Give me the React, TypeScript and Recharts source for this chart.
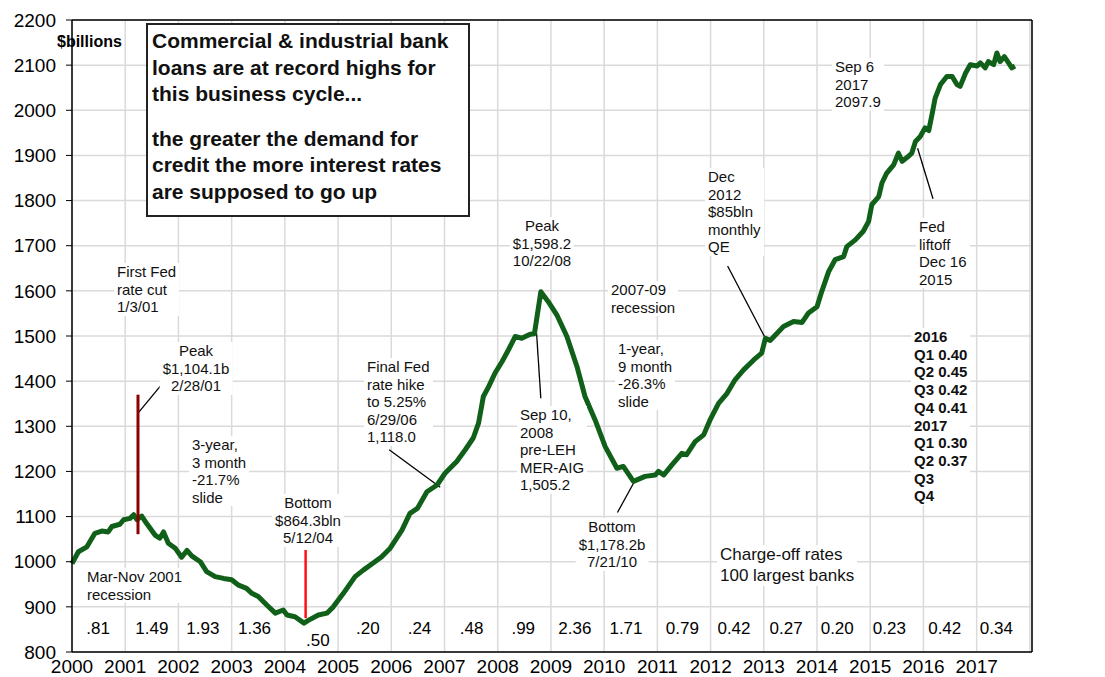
import React from 'react';
import {
  ComposedChart, Line, Scatter, XAxis, YAxis, CartesianGrid, ReferenceLine, LabelList,
} from 'recharts';

// C&I bank loans, $billions (weekly)
const weeks = [
  2000.00, 2000.12, 2000.28, 2000.43, 2000.56, 2000.68, 2000.75, 2000.90, 2000.97, 2001.09,
  2001.16, 2001.22, 2001.31, 2001.40, 2001.56, 2001.65, 2001.72, 2001.81, 2001.94, 2002.06,
  2002.16, 2002.25, 2002.41, 2002.53, 2002.69, 2002.85, 2003.00, 2003.13, 2003.28, 2003.38,
  2003.50, 2003.66, 2003.82, 2003.97, 2004.04, 2004.19, 2004.36, 2004.44, 2004.63, 2004.79,
  2004.91, 2005.10, 2005.32, 2005.48, 2005.66, 2005.82, 2005.98, 2006.20, 2006.35, 2006.49,
  2006.67, 2006.86, 2007.01, 2007.23, 2007.39, 2007.54, 2007.64, 2007.73, 2007.83, 2007.95,
  2008.08, 2008.20, 2008.33, 2008.45, 2008.61, 2008.69, 2008.81, 2008.95, 2009.11, 2009.30,
  2009.49, 2009.64, 2009.83, 2010.02, 2010.24, 2010.36, 2010.55, 2010.77, 2010.96, 2011.02,
  2011.12, 2011.27, 2011.46, 2011.55, 2011.71, 2011.87, 2011.99, 2012.15, 2012.31, 2012.46,
  2012.62, 2012.81, 2012.96, 2013.03, 2013.12, 2013.25, 2013.37, 2013.56, 2013.72, 2013.84,
  2014.00, 2014.09, 2014.22, 2014.34, 2014.50, 2014.56, 2014.72, 2014.87, 2014.97, 2015.03,
  2015.16, 2015.22, 2015.31, 2015.44, 2015.53, 2015.60, 2015.72, 2015.78, 2015.85, 2015.94,
  2016.03, 2016.10, 2016.16, 2016.22, 2016.32, 2016.44, 2016.54, 2016.63, 2016.69, 2016.79,
  2016.88, 2017.01, 2017.07, 2017.16, 2017.22, 2017.32, 2017.38, 2017.44, 2017.52, 2017.60,
  2017.66, 2017.72,
];
const loans = [
  996, 1022, 1033, 1063, 1068, 1066, 1078, 1083, 1093, 1096,
  1104, 1093, 1101, 1085, 1059, 1052, 1066, 1041, 1030, 1010,
  1025, 1013, 1000, 978, 967, 963, 960, 948, 941, 930,
  923, 904, 886, 893, 882, 878, 864, 870, 882, 886,
  900, 930, 967, 982, 997, 1011, 1030, 1070, 1107, 1118,
  1155, 1170, 1196, 1222, 1248, 1274, 1307, 1366, 1388, 1418,
  1443, 1469, 1499, 1495, 1504, 1505, 1598, 1576, 1547, 1499,
  1432, 1366, 1314, 1255, 1207, 1211, 1178, 1189, 1192, 1200,
  1192, 1214, 1240, 1237, 1266, 1281, 1314, 1351, 1373, 1403,
  1425, 1447, 1462, 1495, 1490, 1506, 1521, 1532, 1530, 1551,
  1565, 1599, 1643, 1669, 1676, 1698, 1713, 1732, 1754, 1791,
  1809, 1839, 1861, 1879, 1905, 1887, 1898, 1905, 1931, 1942,
  1961, 1955, 1990, 2027, 2057, 2075, 2075, 2057, 2053, 2082,
  2101, 2098, 2105, 2094, 2108, 2101, 2127, 2108, 2119, 2105,
  2094, 2098,
];

// charge-off rates, 100 largest banks (one per year)
const chargeOffYears = [
  2000.49, 2001.5, 2002.46, 2003.43, 2004.62, 2005.56, 2006.53, 2007.51, 2008.48,
  2009.45, 2010.41, 2011.47, 2012.44, 2013.42, 2014.38, 2015.36, 2016.4, 2017.37,
];
const chargeOffLabels = [
  '.81', '1.49', '1.93', '1.36', '.50', '.20', '.24', '.48', '.99',
  '2.36', '1.71', '0.79', '0.42', '0.27', '0.20', '0.23', '0.42', '0.34',
];

const yearTicks = [2000, 2001, 2002, 2003, 2004, 2005, 2006, 2007, 2008, 2009,
  2010, 2011, 2012, 2013, 2014, 2015, 2016, 2017, 2018];
const valueTicks = [800, 900, 1000, 1100, 1200, 1300, 1400, 1500, 1600, 1700,
  1800, 1900, 2000, 2100, 2200];

const series = weeks.map((t, i) => ({ t, v: loans[i] }));
const chargeOff = chargeOffYears.map((t, i) => ({
  t, v: chargeOffLabels[i] === '.50' ? 827 : 853, label: chargeOffLabels[i],
}));

// annotation pointer lines [x1, y1, x2, y2] in data units
const leaders = [
  [2001.24, 1329, 2001.73, 1399],
  [2005.96, 1248, 2006.92, 1165],
  [2008.73, 1506, 2008.81, 1362],
  [2010.58, 1180, 2010.25, 1109],
  [2012.32, 1655, 2013.03, 1495],
  [2015.89, 1916, 2016.18, 1804],
];

const FONT = '"Liberation Sans", Arial, sans-serif';

function Note({ x, y, lines, center = false, bold = false, size = 15, lh = 17.6 }: any) {
  return (
    <div
      style={{
        position: 'absolute',
        left: center ? x : x - 3,
        top: y,
        transform: center ? 'translateX(-50%)' : undefined,
        fontSize: size,
        lineHeight: lh + 'px',
        fontWeight: bold ? 'bold' : 'normal',
        textAlign: center ? 'center' : 'left',
        whiteSpace: 'pre',
        background: '#fff',
        padding: '0 3px',
        color: '#111',
      }}
    >
      {lines.join('\n')}
    </div>
  );
}

export default function App() {
  const tick = { fill: '#000', fontSize: 19, fontFamily: FONT };
  return (
    <div style={{ position: 'absolute', left: 0, top: 0, width: 1105, height: 677, fontFamily: FONT, background: '#fff' }}>
      <ComposedChart width={1105} height={677} data={series} margin={{ top: 20, right: 0, bottom: 0, left: 0 }}>
        <CartesianGrid yAxisId="l" stroke="#dadada" strokeWidth={1.5} />
        <XAxis
          dataKey="t" type="number" domain={[2000, 2018.04]} ticks={yearTicks}
          tickFormatter={(v) => (v === 2018 ? '' : String(v))}
          tickLine={false} tickSize={6} tickMargin={2} height={25}
          axisLine={{ stroke: '#000', strokeWidth: 1.5 }} tick={tick}
        />
        <YAxis
          yAxisId="l" domain={[800, 2200]} ticks={valueTicks} width={72}
          tickSize={6} tickMargin={10} tick={tick}
          axisLine={{ stroke: '#000', strokeWidth: 1.5 }} tickLine={{ stroke: '#000' }}
        />
        <YAxis
          yAxisId="r" orientation="right" domain={[800, 2200]} ticks={valueTicks} width={73}
          tickSize={6} tickMargin={11} tick={tick}
          axisLine={{ stroke: '#000', strokeWidth: 1.5 }} tickLine={{ stroke: '#000' }}
        />
        <ReferenceLine yAxisId="l" y={2200} stroke="#000" strokeWidth={1.5} />
        {leaders.map((s, i) => (
          <ReferenceLine
            key={i} yAxisId="l" stroke="#000" strokeWidth={1.3}
            segment={[{ x: s[0], y: s[1] }, { x: s[2], y: s[3] }]}
          />
        ))}
        <Line
          yAxisId="l" dataKey="v" type="linear" stroke="#11601a" strokeWidth={5}
          dot={false} isAnimationActive={false} strokeLinejoin="round"
        />
        <ReferenceLine yAxisId="l" stroke="#8b0000" strokeWidth={3}
          segment={[{ x: 2001.24, y: 1061 }, { x: 2001.24, y: 1370 }]} />
        <ReferenceLine yAxisId="l" stroke="#ff1010" strokeWidth={2.5}
          segment={[{ x: 2004.39, y: 875 }, { x: 2004.39, y: 1026 }]} />
        <Scatter yAxisId="l" data={chargeOff} dataKey="v" shape={() => <g />} isAnimationActive={false}>
          <LabelList dataKey="label" position="center" fill="#000" fontSize={17} fontFamily={FONT} />
        </Scatter>
      </ComposedChart>

      <div style={{ position: 'absolute', left: 57, top: 33, fontSize: 16, fontWeight: 'bold' }}>$billions</div>

      <div
        style={{
          position: 'absolute', left: 146, top: 23, width: 316, height: 187,
          border: '2px solid #222', background: '#fff', fontSize: 21, fontWeight: 'bold',
          lineHeight: '26.6px', padding: '3px 0 0 4px', color: '#111',
        }}
      >
        <div>Commercial &amp; industrial bank<br />loans are at record highs for<br />this business cycle...</div>
        <div style={{ marginTop: 18 }}>the greater the demand for<br />credit the more interest rates<br />are supposed to go up</div>
      </div>

      <Note x={117} y={263} lines={['First Fed', 'rate cut', '1/3/01']} />
      <Note x={196} y={342} center lines={['Peak', '$1,104.1b', '2/28/01']} />
      <Note x={192} y={436} lines={['3-year,', '3 month', '-21.7%', 'slide']} />
      <Note x={87} y={568} lines={['Mar-Nov 2001', 'recession']} />
      <Note x={308} y={494} center lines={['Bottom', '$864.3bln', '5/12/04']} />
      <Note x={367} y={358} lines={['Final Fed', 'rate hike', 'to 5.25%', '6/29/06', '1,118.0']} />
      <Note x={542} y={217} center lines={['Peak', '$1,598.2', '10/22/08']} />
      <Note x={520} y={406} lines={['Sep 10,', '2008', 'pre-LEH', 'MER-AIG', '1,505.2']} />
      <Note x={611} y={281} lines={['2007-09', 'recession']} />
      <Note x={618} y={340} lines={['1-year,', '9 month', '-26.3%', 'slide']} />
      <Note x={612} y={518} center lines={['Bottom', '$1,178.2b', '7/21/10']} />
      <Note x={708} y={168} lines={['Dec', '2012', '$85bln', 'monthly', 'QE']} />
      <Note x={835} y={58} lines={['Sep 6', '2017', '2097.9']} />
      <Note x={919} y={218} lines={['Fed', 'liftoff', 'Dec 16', '2015']} />
      <Note
        x={914} y={328} bold size={15} lh={17.7}
        lines={['2016', 'Q1 0.40', 'Q2 0.45', 'Q3 0.42', 'Q4 0.41', '2017', 'Q1 0.30', 'Q2 0.37', 'Q3', 'Q4']}
      />
      <Note x={720} y={545} size={17} lh={20.7} lines={['Charge-off rates', '100 largest banks']} />
    </div>
  );
}
